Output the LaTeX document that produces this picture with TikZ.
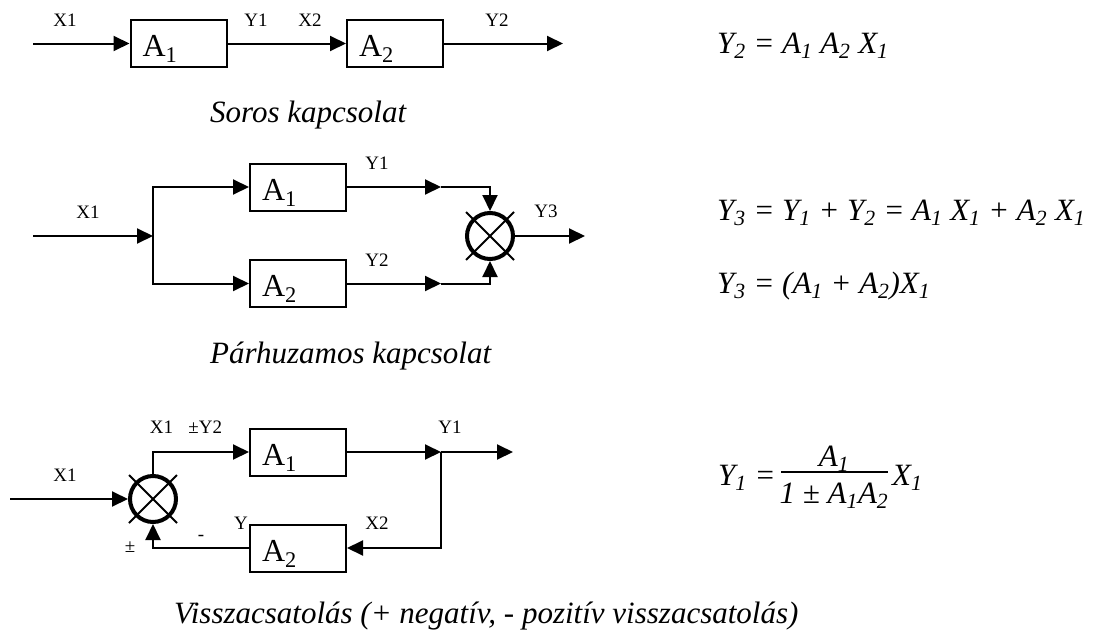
\documentclass[tikz,border=0pt]{standalone}
\usepackage{fontspec}
\setmainfont{Liberation Serif}
\usetikzlibrary{arrows.meta}
\newcommand{\isb}[1]{\textsubscript{#1}}
\begin{document}
\begin{tikzpicture}[x=1pt,y=-1pt,
  blk/.style={draw, line width=2pt, minimum height=47pt, text width=72pt, inner xsep=12pt, inner ysep=0pt, text height=36.5pt, text depth=10.5pt, align=left, font=\fontsize{32}{36}\selectfont},
  sumj/.style={draw, circle, line width=4pt, minimum size=46pt, inner sep=0pt},
  crs/.style={line width=2pt},
  sig/.style={line width=2pt, -{Triangle[length=16pt,width=15pt]}},
  lbl/.style={font=\fontsize{19}{22}\selectfont, inner sep=0pt},
  capt/.style={font=\fontsize{31}{35}\selectfont\itshape, anchor=base west, inner sep=0pt},
  eqn/.style={font=\fontsize{31}{36}\selectfont\itshape, anchor=base west, inner sep=0pt},
  eqc/.style={font=\fontsize{31}{36}\selectfont\itshape, anchor=base, inner sep=0pt},
]
\useasboundingbox (0,0) rectangle (1093,637);

% ---------- Row 1: series ----------
\coordinate (r1in) at (33,43.5);
\node[blk] (r1a1) at (178.5,43.5) {A\isb{1}};
\node[blk] (r1a2) at (395,43.5) {A\isb{2}};
\coordinate (r1out) at (563,43.5);
\draw[sig] (r1in) -- (r1a1);
\draw[sig] (r1a1) -- (r1a2);
\draw[sig] (r1a2) -- (r1out);
\node[lbl] (r1x1) at (65,20) {X1};
\node[lbl] (r1y1) at (256,20) {Y1};
\node[lbl] (r1x2) at (310,20) {X2};
\node[lbl] (r1y2) at (497,20) {Y2};
\node[capt] (cap1) at (210,122) {Soros kapcsolat};

% ---------- Row 2: parallel ----------
\coordinate (r2in) at (33,236);
\coordinate (r2j) at (153,236);
\node[blk] (r2a1) at (298,187) {A\isb{1}};
\node[blk] (r2a2) at (298,283.5) {A\isb{2}};
\coordinate (r2t1) at (441,187);
\coordinate (r2t2) at (441,283.5);
\node[sumj] (r2s) at (490,236) {};
\draw[crs] ([shift={(-24,-24)}]r2s.center) -- ([shift={(24,24)}]r2s.center);
\draw[crs] ([shift={(-24,24)}]r2s.center) -- ([shift={(24,-24)}]r2s.center);
\coordinate (r2out) at (585,236);
\draw[sig] (r2in) -- (r2j);
\draw[sig] (r2j) |- (r2a1);
\draw[sig] (r2j) |- (r2a2);
\draw[sig] (r2a1) -- (r2t1);
\draw[sig] (r2a2) -- (r2t2);
\draw[sig] (r2t1) -| (r2s);
\draw[sig] (r2t2) -| (r2s);
\draw[sig] (r2s) -- (r2out);
\node[lbl] (r2x1) at (88,212) {X1};
\node[lbl] (r2y1) at (377,163) {Y1};
\node[lbl] (r2y2) at (377,260) {Y2};
\node[lbl] (r2y3) at (546,211) {Y3};
\node[capt] (cap2) at (210,363) {Párhuzamos kapcsolat};

% ---------- Row 3: feedback ----------
\coordinate (r3in) at (10,499);
\node[sumj] (r3s) at (153,499) {};
\draw[crs] ([shift={(-24,-24)}]r3s.center) -- ([shift={(24,24)}]r3s.center);
\draw[crs] ([shift={(-24,24)}]r3s.center) -- ([shift={(24,-24)}]r3s.center);
\node[blk] (r3a1) at (298,452) {A\isb{1}};
\node[blk] (r3a2) at (298,548) {A\isb{2}};
\coordinate (r3t) at (441,452);
\coordinate (r3out) at (513,452);
\draw[sig] (r3in) -- (r3s);
\draw[sig] (r3s) |- (r3a1);
\draw[sig] (r3a1) -- (r3t);
\draw[sig] (r3t) -- (r3out);
\draw[sig] (r3t) |- (r3a2);
\draw[sig] (r3a2) -| (r3s);
\node[lbl] (r3x1) at (65,475) {X1};
\node[lbl] (r3x1y2) at (186,427) {X1\hspace{0.8em}±Y2};
\node[lbl] (r3y1) at (450,427) {Y1};
\node[lbl] (r3x2) at (377,523) {X2};
\node[lbl] (r3y) at (241,523) {Y};
\node[lbl] (r3m) at (201,538) {-};
\node[lbl] (r3pm) at (130,547) {±};
\node[capt] (cap3) at (174,623) {Visszacsatolás (+ negatív, - pozitív visszacsatolás)};

% ---------- Equations ----------
\node[eqn] (e1) at (717,53) {Y\isb{2} = A\isb{1} A\isb{2} X\isb{1}};
\node[eqn] (e2) at (717,220) {Y\isb{3} = Y\isb{1} + Y\isb{2} = A\isb{1} X\isb{1} + A\isb{2} X\isb{1}};
\node[eqn] (e3) at (717,293) {Y\isb{3} = (A\isb{1} + A\isb{2})X\isb{1}};
\node[eqn] (f1) at (718,485) {Y\isb{1} =};
\node[eqc] (f2) at (834,466) {A\isb{1}};
\node[eqc] (f3) at (834,503) {1 ± A\isb{1}A\isb{2}};
\coordinate (fb1) at (781,472);
\coordinate (fb2) at (888,472);
\draw[line width=1.3pt] (fb1) -- (fb2);
\node[eqn] (f4) at (892,485) {X\isb{1}};
\end{tikzpicture}
\end{document}
